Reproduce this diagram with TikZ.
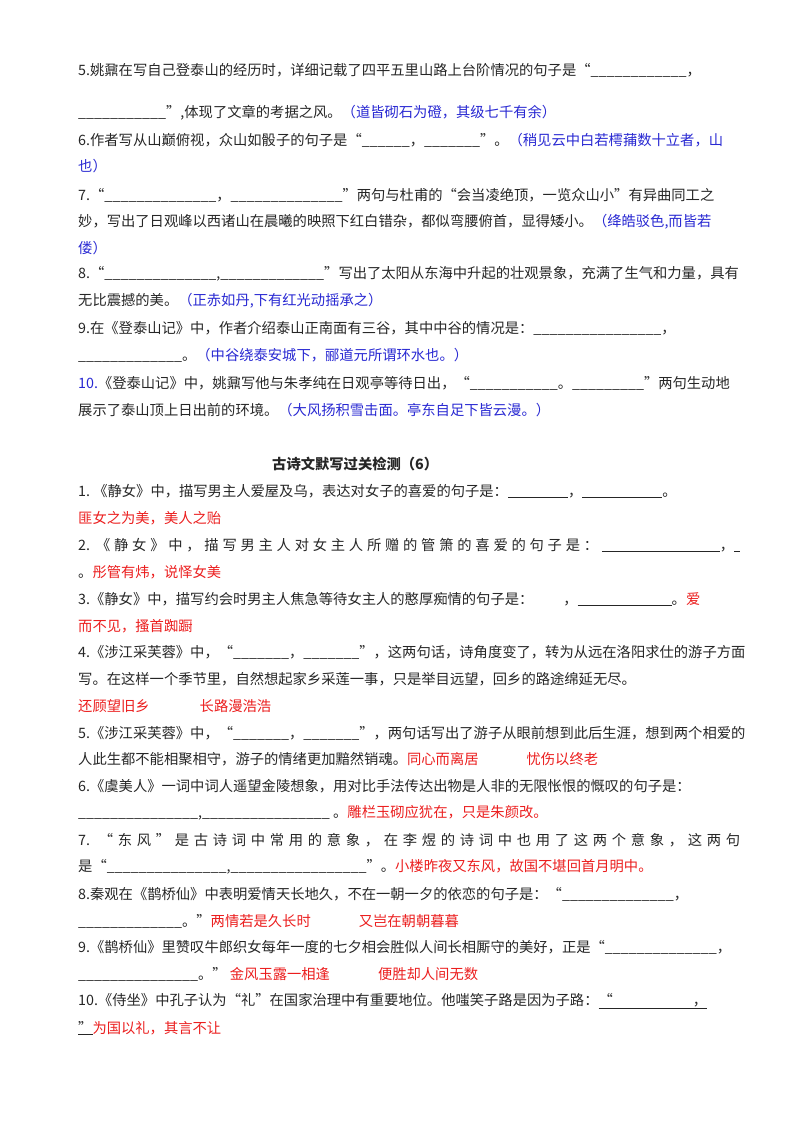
\documentclass[tikz,border=0pt]{standalone}
\usepackage{fontspec}
\setmainfont{Noto Sans CJK SC}
\definecolor{ansb}{RGB}{40,40,210}
\definecolor{ansr}{RGB}{235,30,30}
\newcommand{\bl}[1]{\underline{\hspace{#1pt}}}
\begin{document}
\begin{tikzpicture}[x=1pt,y=-1pt,
  ln/.style={anchor=west,inner sep=0pt,font=\fontsize{14.3}{15}\selectfont,text=black!85},
  b/.style={text=ansb},r/.style={text=ansr}]
\useasboundingbox (0,0) rectangle (800,1134);
\node[ln] (a1) at (78,70) {5.姚鼐在写自己登泰山的经历时，详细记载了四平五里山路上台阶情况的句子是“\_\_\_\_\_\_\_\_\_\_\_\_，};
\node[ln] (a2) at (78,113) {\_\_\_\_\_\_\_\_\_\_\_”,体现了文章的考据之风。\textcolor{ansb}{（道皆砌石为磴，其级七千有余）}};
\node[ln] (a3) at (78,140) {6.作者写从山巅俯视，众山如骰子的句子是“\_\_\_\_\_\_，\_\_\_\_\_\_\_”。\textcolor{ansb}{（稍见云中白若樗蒱数十立者，山}};
\node[ln,b] (a4) at (78,166) {也）};
\node[ln] (a5) at (78,195) {7.“\_\_\_\_\_\_\_\_\_\_\_\_\_\_，\_\_\_\_\_\_\_\_\_\_\_\_\_\_”两句与杜甫的“会当凌绝顶，一览众山小”有异曲同工之};
\node[ln] (a6) at (78,222) {妙，写出了日观峰以西诸山在晨曦的映照下红白错杂，都似弯腰俯首，显得矮小。\textcolor{ansb}{（绛皓驳色,而皆若}};
\node[ln,b] (a7) at (78,248) {偻）};
\node[ln] (a8) at (78,274) {8.“\_\_\_\_\_\_\_\_\_\_\_\_\_\_,\_\_\_\_\_\_\_\_\_\_\_\_\_”写出了太阳从东海中升起的壮观景象，充满了生气和力量，具有};
\node[ln] (a9) at (78,301) {无比震撼的美。\textcolor{ansb}{（正赤如丹,下有红光动摇承之）}};
\node[ln] (a10) at (78,328) {9.在《登泰山记》中，作者介绍泰山正南面有三谷，其中中谷的情况是：\_\_\_\_\_\_\_\_\_\_\_\_\_\_\_\_，};
\node[ln] (a11) at (78,355) {\_\_\_\_\_\_\_\_\_\_\_\_\_。\textcolor{ansb}{（中谷绕泰安城下，郦道元所谓环水也。）}};
\node[ln] (a12) at (78,383) {\textcolor{ansb}{10.}《登泰山记》中，姚鼐写他与朱孝纯在日观亭等待日出，“\_\_\_\_\_\_\_\_\_\_\_。\_\_\_\_\_\_\_\_\_”两句生动地};
\node[ln] (a13) at (78,410) {展示了泰山顶上日出前的环境。\textcolor{ansb}{（大风扬积雪击面。亭东自足下皆云漫。）}};
\node[ln,font=\fontsize{14.3}{15}\selectfont\bfseries] (t) at (272,464) {古诗文默写过关检测（6）};
\node[ln] (b1) at (78,491) {1.\ 《静女》中，描写男主人爱屋及乌，表达对女子的喜爱的句子是：\bl{60}，\bl{80}。};
\node[ln,r] (b2) at (78,518) {匪女之为美，美人之贻};
\node[ln] (b3) at (78,545) {\makebox[662pt][s]{2. 《 静 女 》 中 ， 描 写 男 主 人 对 女 主 人 所 赠 的 管 箫 的 喜 爱 的 句 子 是 ： \bl{118}，\bl{6}}};
\node[ln] (b4) at (78,572) {。\textcolor{ansr}{彤管有炜，说怿女美}};
\node[ln] (b5) at (78,599) {3.《静女》中，描写约会时男主人焦急等待女主人的憨厚痴情的句子是：\hspace{30pt}，\bl{94}。\textcolor{ansr}{爱}};
\node[ln,r] (b6) at (78,626) {而不见，搔首踟蹰};
\node[ln] (b7) at (78,652) {4.《涉江采芙蓉》中，“\_\_\_\_\_\_\_，\_\_\_\_\_\_\_”，这两句话，诗角度变了，转为从远在洛阳求仕的游子方面};
\node[ln] (b8) at (78,679) {写。在这样一个季节里，自然想起家乡采莲一事，只是举目远望，回乡的路途绵延无尽。};
\node[ln,r] (b9) at (78,706) {还顾望旧乡\hspace{50pt}长路漫浩浩};
\node[ln] (b10) at (78,733) {5.《涉江采芙蓉》中，“\_\_\_\_\_\_\_，\_\_\_\_\_\_\_”，两句话写出了游子从眼前想到此后生涯，想到两个相爱的};
\node[ln] (b11) at (78,759) {人此生都不能相聚相守，游子的情绪更加黯然销魂。\textcolor{ansr}{同心而离居\hspace{48pt}忧伤以终老}};
\node[ln] (b12) at (78,786) {6.《虞美人》一词中词人遥望金陵想象，用对比手法传达出物是人非的无限怅恨的慨叹的句子是：};
\node[ln] (b13) at (78,813) {\_\_\_\_\_\_\_\_\_\_\_\_\_\_\_,\_\_\_\_\_\_\_\_\_\_\_\_\_\_\_\_\ 。\textcolor{ansr}{雕栏玉砌应犹在，只是朱颜改。}};
\node[ln] (b14) at (78,840) {\makebox[662pt][s]{7. “ 东 风 ” 是 古 诗 词 中 常 用 的 意 象 ， 在 李 煜 的 诗 词 中 也 用 了 这 两 个 意 象 ， 这 两 句}};
\node[ln] (b15) at (78,867) {是“\_\_\_\_\_\_\_\_\_\_\_\_\_\_\_,\_\_\_\_\_\_\_\_\_\_\_\_\_\_\_\_\_”。\textcolor{ansr}{小楼昨夜又东风，故国不堪回首月明中。}};
\node[ln] (b16) at (78,894) {8.秦观在《鹊桥仙》中表明爱情天长地久，不在一朝一夕的依恋的句子是：“\_\_\_\_\_\_\_\_\_\_\_\_\_\_，};
\node[ln] (b17) at (78,921) {\_\_\_\_\_\_\_\_\_\_\_\_\_。”\textcolor{ansr}{两情若是久长时\hspace{48pt}又岂在朝朝暮暮}};
\node[ln] (b18) at (78,947) {9.《鹊桥仙》里赞叹牛郎织女每年一度的七夕相会胜似人间长相厮守的美好，正是“\_\_\_\_\_\_\_\_\_\_\_\_\_\_，};
\node[ln] (b19) at (78,974) {\_\_\_\_\_\_\_\_\_\_\_\_\_\_\_。”\ \textcolor{ansr}{金风玉露一相逢\hspace{48pt}便胜却人间无数}};
\node[ln] (b20) at (78,1001) {10.《侍坐》中孔子认为“礼”在国家治理中有重要地位。他嗤笑子路是因为子路：\underline{“\hspace{80pt}，}};
\node[ln] (b21) at (78,1028) {\underline{”}\textcolor{ansr}{为国以礼，其言不让}};
\end{tikzpicture}
\end{document}
